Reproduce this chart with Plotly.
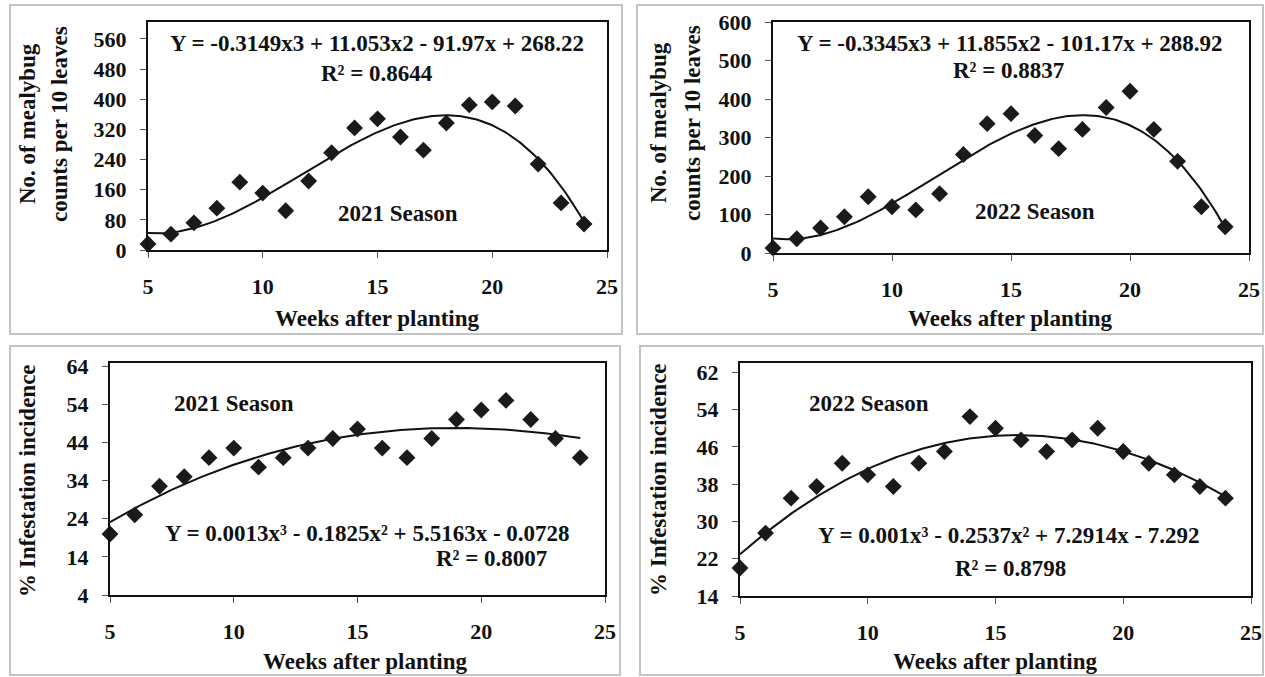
import numpy as np
import plotly.graph_objects as go

# ---------------- data ----------------
weeks = [5, 6, 7, 8, 9, 10, 11, 12, 13, 14, 15, 16, 17, 18, 19, 20, 21, 22, 23, 24]

mealybug_2021 = [16, 42, 72, 111, 180, 151, 104, 183, 258, 324, 348, 300, 265, 337, 385, 393, 382, 228, 125, 69]
mealybug_2022 = [13, 37, 65, 94, 146, 120, 112, 154, 256, 336, 362, 305, 271, 321, 378, 420, 321, 238, 120, 68]
infest_2021 = [20, 25, 32.5, 35, 40, 42.5, 37.5, 40, 42.5, 45, 47.5, 42.5, 40, 45, 50, 52.5, 55, 50, 45, 40]
infest_2022 = [20, 27.5, 35, 37.5, 42.5, 40, 37.5, 42.5, 45, 52.5, 50, 47.5, 45, 47.5, 50, 45, 42.5, 40, 37.5, 35]

# cubic trend-line coefficients (a x^3 + b x^2 + c x + d) as printed on the chart
coef_mb_2021 = [-0.3149, 11.053, -91.97, 268.22]
coef_mb_2022 = [-0.3345, 11.855, -101.17, 288.92]
coef_inf_2021 = [0.0013, -0.1825, 5.5163, -0.0728]
coef_inf_2022 = [0.001, -0.2537, 7.2914, -7.292]

eq_texts = [
    "Y = -0.3149x3 + 11.053x2 - 91.97x + 268.22",
    "Y = -0.3345x3 + 11.855x2 - 101.17x + 288.92",
    "Y = 0.0013x³ - 0.1825x² + 5.5163x - 0.0728",
    "Y = 0.001x³ - 0.2537x² + 7.2914x - 7.292",
]
r2_texts = ["R² = 0.8644", "R² = 0.8837", "R² = 0.8007", "R² = 0.8798"]
season_texts = ["2021 Season", "2022 Season", "2021 Season", "2022 Season"]

x_ticks = [5, 10, 15, 20, 25]
y_ticks_mb_2021 = [0, 80, 160, 240, 320, 400, 480, 560]
y_ticks_mb_2022 = [0, 100, 200, 300, 400, 500, 600]
y_ticks_inf_2021 = [4, 14, 24, 34, 44, 54, 64]
y_ticks_inf_2022 = [14, 22, 30, 38, 46, 54, 62]

# ---------------- figure ----------------
W, H = 1265, 677
FONT = "Times New Roman, Liberation Serif, serif"
INK = "#111111"
TS = 23  # text size

def px(x):
    return x / W

def py(y):
    return 1 - y / H

fig = go.Figure()

series = [
    (mealybug_2021, coef_mb_2021, "x", "y"),
    (mealybug_2022, coef_mb_2022, "x2", "y2"),
    (infest_2021, coef_inf_2021, "x3", "y3"),
    (infest_2022, coef_inf_2022, "x4", "y4"),
]
xs_fit = np.linspace(weeks[0], weeks[-1], 200)
for vals, coef, xa, ya in series:
    fig.add_trace(go.Scatter(
        x=xs_fit, y=np.polyval(coef, xs_fit), mode="lines",
        line=dict(color=INK, width=2), xaxis=xa, yaxis=ya,
        showlegend=False, hoverinfo="skip"))
    fig.add_trace(go.Scatter(
        x=weeks, y=vals, mode="markers",
        marker=dict(symbol="diamond", size=13, color="#1a1a1a"),
        xaxis=xa, yaxis=ya, showlegend=False, cliponaxis=False))

# plot-area geometry (pixel boxes)
boxes = {
    1: (148, 607, 22, 250),
    2: (773, 1249, 22, 253),
    3: (110, 605, 363, 595),
    4: (740, 1251, 363, 596),
}
yranges = {1: [0, 605], 2: [0, 600], 3: [4, 64.8], 4: [14, 64]}
yticks = {1: y_ticks_mb_2021, 2: y_ticks_mb_2022, 3: y_ticks_inf_2021, 4: y_ticks_inf_2022}

tickfont = dict(family=FONT, size=22, color=INK, weight="bold")
common = dict(showline=True, mirror=True, linecolor=INK, linewidth=2,
              ticks="outside", ticklen=6, tickcolor="#555", tickwidth=1,
              showgrid=False, zeroline=False, tickfont=tickfont, automargin=False)

layout_axes = {}
for i, (l, r, t, b) in boxes.items():
    sx = "" if i == 1 else str(i)
    layout_axes["xaxis" + sx] = dict(
        domain=[px(l), px(r)], range=[5, 25], tickvals=x_ticks,
        anchor="y" + sx, ticklabelstandoff=10, **common)
    layout_axes["yaxis" + sx] = dict(
        domain=[py(b), py(t)], range=yranges[i], tickvals=yticks[i],
        anchor="x" + sx, ticklabelstandoff=9, **common)

fig.update_layout(width=W, height=H, margin=dict(l=0, r=0, t=0, b=0, autoexpand=False),
                  paper_bgcolor="white", plot_bgcolor="white", **layout_axes)

# outer panel frames
frames = [(10, 622, 5, 334), (637, 1263, 5, 334), (10, 620, 346, 675), (640, 1263, 346, 675)]
for l, r, t, b in frames:
    fig.add_shape(type="rect", xref="paper", yref="paper",
                  x0=px(l), x1=px(r), y0=py(b), y1=py(t),
                  line=dict(color="#c4c4c4", width=2), layer="below")

def text(x, y, s, size=TS, angle=0):
    fig.add_annotation(x=px(x), y=py(y), xref="paper", yref="paper", text=s,
                       showarrow=False, xanchor="center", yanchor="middle",
                       textangle=angle,
                       font=dict(family=FONT, size=size, color=INK, weight="bold"))

# equations, R², season labels
text(377, 43, eq_texts[0])
text(377, 73, r2_texts[0])
text(398, 213, season_texts[0])

text(1010, 43, eq_texts[1])
text(1009, 70, r2_texts[1])
text(1035, 211, season_texts[1])

text(234, 403, season_texts[2])
text(367, 533, eq_texts[2])
text(492, 558, r2_texts[2])

text(869, 403, season_texts[3])
text(1009, 535, eq_texts[3])
text(1010, 568, r2_texts[3])

# axis titles
text(377, 318, "Weeks after planting")
text(1010, 318, "Weeks after planting")
text(365, 661, "Weeks after planting")
text(995, 661, "Weeks after planting")

text(28, 124, "No. of mealybug", angle=-90)
text(60, 124, "counts per 10 leaves", angle=-90)
text(658, 123, "No. of mealybug", angle=-90)
text(692, 123, "counts per 10 leaves", angle=-90)
text(28, 481, "% Infestation incidence", angle=-90)
text(658, 480, "% Infestation incidence", angle=-90)

fig.write_html("out.html", post_script="document.body.style.margin='0';",
               config={"displayModeBar": False})
